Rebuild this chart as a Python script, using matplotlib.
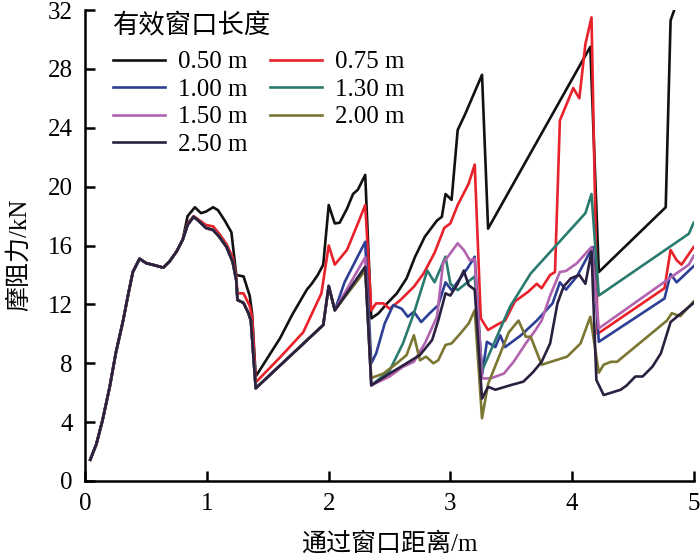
import matplotlib
matplotlib.use("Agg")
import matplotlib.pyplot as plt

# shared rising part (all window lengths)
base_x = [0.04, 0.09, 0.14, 0.20, 0.25, 0.31, 0.35, 0.39, 0.445, 0.50, 0.55, 0.64, 0.69, 0.75, 0.80]
base_y = [1.45, 2.5, 4.1, 6.4, 8.7, 10.9, 12.6, 14.2, 15.1, 14.8, 14.7, 14.5, 14.9, 15.6, 16.4]

# shared part for the longer windows (1.00 m and up)
common_x = [0.84, 0.89, 0.94, 0.99, 1.05, 1.10, 1.16, 1.21, 1.24, 1.25, 1.30, 1.34, 1.36, 1.40,
            1.60, 1.80, 1.955, 2.00, 2.05]
common_y = [17.4, 17.96, 17.6, 17.2, 17.05, 16.6, 15.9, 14.9, 13.65, 12.3, 12.1, 11.4, 10.9, 6.3,
            7.85, 9.4, 10.6, 13.25, 11.6]

x_050 = [0.84, 0.90, 0.95, 0.99, 1.05, 1.09, 1.145, 1.20, 1.24, 1.30, 1.35, 1.37, 1.40,
         1.50, 1.60, 1.70, 1.82, 1.86, 1.91, 1.955, 2.00, 2.05, 2.09, 2.15, 2.20, 2.24, 2.30,
         2.35, 2.41, 2.48, 2.56, 2.64, 2.71, 2.79, 2.89, 2.93, 2.96, 3.01, 3.06, 3.12, 3.26,
         3.31, 4.15, 4.22, 4.77, 4.81, 4.84]
y_050 = [18.0, 18.6, 18.2, 18.3, 18.6, 18.4, 17.7, 16.9, 14.0, 13.9, 12.6, 11.4, 7.1,
         8.4, 9.7, 11.3, 13.0, 13.4, 14.0, 14.7, 18.75, 17.5, 17.55, 18.5, 19.5, 19.8, 20.8,
         11.05, 11.4, 12.07, 12.75, 13.77, 15.24, 16.6, 17.7, 17.95, 19.5, 19.1, 23.85, 24.9, 27.6,
         17.15, 29.5, 14.2, 18.6, 31.3, 32.0]

x_075 = [0.84, 0.89, 0.94, 0.99, 1.05, 1.10, 1.16, 1.21, 1.24, 1.25, 1.30, 1.35, 1.37, 1.40,
         1.60, 1.79, 1.94, 2.00, 2.05, 2.15, 2.23, 2.30, 2.35, 2.39, 2.45, 2.50, 2.59, 2.70,
         2.78, 2.87, 2.95, 3.00, 3.06, 3.15, 3.20, 3.25, 3.31, 3.38, 3.45, 3.53, 3.64, 3.71,
         3.75, 3.82, 3.86, 3.90, 4.01, 4.06, 4.11, 4.16, 4.21, 4.76, 4.81, 4.86, 4.90, 5.00]
y_075 = [17.5, 18.0, 17.7, 17.4, 17.3, 16.8, 16.1, 15.2, 13.9, 12.75, 12.75, 11.9, 11.2, 6.7,
         8.4, 10.1, 12.75, 16.0, 14.7, 15.7, 17.3, 18.75, 11.6, 12.07, 12.07, 11.7, 12.3, 13.2,
         14.1, 15.5, 17.2, 17.5, 18.75, 20.2, 21.5, 11.05, 10.26, 10.6, 10.9, 12.2, 12.86, 13.4,
         13.1, 14.0, 14.2, 24.5, 26.7, 26.0, 29.7, 31.5, 10.0, 13.1, 15.7, 15.0, 14.7, 15.9]

x_100 = [2.13, 2.30, 2.35, 2.39, 2.46, 2.53, 2.60, 2.65, 2.70, 2.76, 2.83, 2.90, 2.96, 3.01,
         3.07, 3.14, 3.20, 3.26, 3.30, 3.37, 3.41, 3.45, 3.58, 3.71, 3.84, 3.90, 3.95, 4.04,
         4.17, 4.22, 4.76, 4.81, 4.86, 5.00]
y_100 = [13.5, 16.25, 8.0, 8.67, 10.7, 11.95, 11.7, 11.16, 11.5, 10.8, 11.4, 11.95, 13.5, 12.97,
         13.65, 14.45, 15.24, 7.2, 9.46, 9.1, 9.9, 9.1, 9.9, 10.9, 12.07, 13.5, 13.0, 13.9,
         15.9, 9.46, 12.4, 14.06, 13.5, 14.6]

x_130 = [2.30, 2.35, 2.50, 2.61, 2.70, 2.81, 2.87, 2.96, 3.00, 3.06, 3.14, 3.20, 3.26, 3.37,
         3.49, 3.66, 4.11, 4.16, 4.22, 4.96, 5.00]
y_130 = [14.55, 6.5, 7.5, 9.35, 11.4, 14.3, 13.5, 15.24, 13.4, 12.97, 13.5, 13.9, 7.5, 9.58,
         11.84, 14.1, 18.2, 19.5, 12.6, 16.8, 17.55]

x_150 = [2.30, 2.35, 2.50, 2.61, 2.70, 2.79, 2.89, 2.94, 3.06, 3.11, 3.16, 3.20, 3.26, 3.33,
         3.44, 3.52, 3.62, 3.70, 3.75, 3.82, 3.90, 3.95, 4.04, 4.16, 4.22, 4.96, 5.00]
y_150 = [15.2, 6.5, 7.1, 7.76, 8.1, 9.35, 11.16, 14.8, 16.15, 15.7, 15.0, 15.1, 6.97, 6.97,
         7.3, 8.1, 9.35, 10.26, 10.9, 12.6, 14.2, 14.27, 14.8, 15.9, 10.37, 14.7, 15.3]

x_200 = [2.30, 2.35, 2.45, 2.56, 2.64, 2.70, 2.75, 2.80, 2.86, 2.90, 2.96, 3.01, 3.08, 3.15,
         3.20, 3.26, 3.31, 3.40, 3.48, 3.56, 3.62, 3.66, 3.75, 3.96, 4.07, 4.15, 4.22, 4.26,
         4.32, 4.37, 4.78, 4.82, 4.89, 5.00]
y_200 = [14.3, 7.0, 7.3, 8.0, 8.56, 9.9, 8.2, 8.45, 8.0, 8.2, 9.24, 9.35, 10.0, 10.7,
         11.6, 4.26, 6.6, 8.45, 10.1, 10.9, 9.8, 9.8, 7.9, 8.45, 9.35, 11.16, 7.36, 7.9,
         8.1, 8.1, 10.9, 11.4, 11.2, 12.2]

x_250 = [2.30, 2.35, 2.50, 2.64, 2.75, 2.85, 2.90, 2.96, 3.00, 3.06, 3.11, 3.15, 3.20, 3.26,
         3.31, 3.37, 3.49, 3.60, 3.68, 3.75, 3.82, 3.88, 3.93, 3.99, 4.06, 4.11, 4.16, 4.20,
         4.26, 4.40, 4.45, 4.52, 4.58, 4.66, 4.73, 4.81, 5.00]
y_250 = [14.55, 6.5, 7.3, 8.0, 8.56, 9.58, 10.9, 12.75, 12.6, 13.4, 14.3, 13.3, 13.0, 5.6,
         6.4, 6.2, 6.5, 6.75, 7.4, 8.1, 9.35, 12.07, 13.2, 13.77, 14.0, 13.4, 15.6, 6.86,
         5.84, 6.2, 6.5, 7.1, 7.1, 7.76, 8.67, 10.8, 12.1]

labels = ["0.50 m", "0.75 m", "1.00 m", "1.30 m", "1.50 m", "2.00 m", "2.50 m"]
colors = ["#111111", "#e8212b", "#2d3f94", "#2a7b6f", "#b263b0", "#7b7632", "#2b2040"]

series = [
    (base_x + x_050, base_y + y_050),
    (base_x + x_075, base_y + y_075),
    (base_x + common_x + x_100, base_y + common_y + y_100),
    (base_x + common_x + x_130, base_y + common_y + y_130),
    (base_x + common_x + x_150, base_y + common_y + y_150),
    (base_x + common_x + x_200, base_y + common_y + y_200),
    (base_x + common_x + x_250, base_y + common_y + y_250),
]

plt.rcParams["font.family"] = ["Liberation Serif", "Noto Sans CJK SC"]
plt.rcParams["font.size"] = 18

fig = plt.figure(figsize=(7.0, 5.58), dpi=100)
ax = fig.add_axes([0.122, 0.138, 0.869, 0.844])

handles = []
for (xs, ys), lab, c in zip(series, labels, colors):
    h, = ax.plot(xs, ys, color=c, linewidth=1.9, label=lab)
    handles.append(h)

ax.set_xlim(0, 5)
ax.set_ylim(0, 32)
ax.set_xticks([0, 1, 2, 3, 4, 5])
ax.set_yticks(range(0, 33, 4))
ax.spines["top"].set_visible(False)
ax.spines["right"].set_visible(False)
for s in ("left", "bottom"):
    ax.spines[s].set_linewidth(1.8)
ax.tick_params(direction="in", length=7, width=1.8, pad=9, labelsize=18)

ax.set_xlabel("通过窗口距离/m", fontsize=18, labelpad=12)
ax.set_ylabel("摩阻力/kN", fontsize=18)
ax.yaxis.set_label_coords(-0.09, 0.48)

# matplotlib fills columns first; reorder so the legend reads row by row
order = [0, 2, 4, 6, 1, 3, 5]
leg = ax.legend([handles[i] for i in order], [labels[i] for i in order],
                title="有效窗口长度", ncol=2, loc="upper left", bbox_to_anchor=(0.02, 1.025),
                frameon=False, fontsize=18, title_fontsize=19, handlelength=2.1,
                handletextpad=0.5, columnspacing=0.9, labelspacing=0.2, borderaxespad=0.2)
leg._legend_box.align = "left"
leg._legend_box.sep = 9

fig.savefig("out.png", dpi=100)
